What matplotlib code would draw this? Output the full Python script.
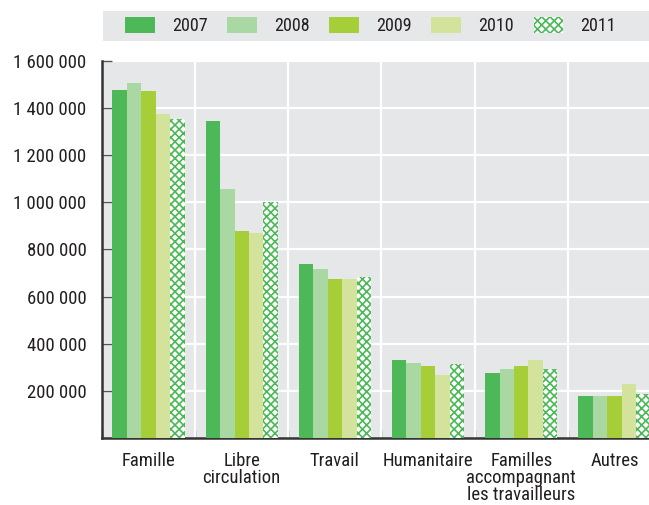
import numpy as np
import matplotlib
matplotlib.use("Agg")
import matplotlib.pyplot as plt
from matplotlib.patches import Rectangle, Patch

plt.rcParams['font.family'] = ['Roboto Condensed', 'Liberation Sans Narrow',
                               'Liberation Sans', 'DejaVu Sans']
plt.rcParams['hatch.linewidth'] = 1.2

categories = ["Famille", "Libre\ncirculation", "Travail", "Humanitaire",
              "Familles\naccompagnant\nles travailleurs", "Autres"]
years = ["2007", "2008", "2009", "2010", "2011"]
v2007 = [1477000, 1345000, 739000, 331000, 276000, 178000]
v2008 = [1507000, 1057000, 717000, 318000, 293000, 178000]
v2009 = [1473000, 879000, 675000, 306000, 306000, 178000]
v2010 = [1375000, 870000, 675000, 267000, 331000, 229000]
v2011 = [1354000, 1002000, 683000, 314000, 293000, 187000]
yticks = [200000, 400000, 600000, 800000, 1000000, 1200000, 1400000, 1600000]
series = [v2007, v2008, v2009, v2010, v2011]

colors = ["#4cb858", "#a9d8a3", "#a6ce39", "#d3e39c", "white"]
hatch_green = "#4cb858"
bg = "#e6e7e8"
text_col = "#231f20"

fig = plt.figure(figsize=(6.49, 5.05), dpi=100)
W, H = 649, 505
ax = fig.add_axes([102 / W, 1 - 438 / H, (661 - 102) / W, (438 - 61) / H])
ax.set_facecolor(bg)

x = np.arange(len(categories))
bw = 0.155
for i, vals in enumerate(series):
    pos = x - 2 * bw + i * bw
    if i == 4:
        ax.bar(pos, vals, bw, color="white", edgecolor=hatch_green,
               hatch="xxxx", linewidth=0, zorder=3)
    else:
        ax.bar(pos, vals, bw, color=colors[i], linewidth=0, zorder=3)

ax.set_xlim(-0.5, len(categories) - 0.5)
ax.set_ylim(0, 1600000)
ax.set_yticks(yticks)
ax.set_yticklabels([f"{v:,}".replace(",", " ") for v in yticks])
ax.set_xticks(x)
ax.set_xticklabels(categories, linespacing=0.95)
ax.set_xticks(np.arange(len(categories) + 1) - 0.5, minor=True)

ax.grid(axis="y", color="white", linewidth=1.6, zorder=1)
for b in np.arange(1, len(categories)) - 0.5:
    ax.axvline(b, color="white", linewidth=1.6, zorder=1)
ax.set_axisbelow(True)

for s in ["top", "right"]:
    ax.spines[s].set_visible(False)
ax.spines["left"].set_color("#333333")
ax.spines["left"].set_linewidth(1.8)
ax.spines["bottom"].set_color("#333333")
ax.spines["bottom"].set_linewidth(1.8)

ax.tick_params(axis="y", direction="in", length=7, width=1, color="#555555",
               labelsize=13.5, labelcolor=text_col, pad=11)
ax.tick_params(axis="x", which="major", length=0, labelsize=13.5,
               labelcolor=text_col, pad=10)
ax.tick_params(axis="x", which="minor", direction="in", length=6, width=1,
               color="#555555")

fig.patches.append(Rectangle((103 / W, 1 - 41 / H), (649 - 103) / W, 30 / H,
                             transform=fig.transFigure, facecolor=bg,
                             edgecolor="none"))
handles = []
for i, y in enumerate(years):
    if i == 4:
        handles.append(Patch(facecolor="white", edgecolor=hatch_green,
                             hatch="xxxx", linewidth=0, label=y))
    else:
        handles.append(Patch(facecolor=colors[i], linewidth=0, label=y))
fig.legend(handles=handles, loc="center left",
           bbox_to_anchor=(109 / W, 1 - 26 / H), ncol=5, frameon=False,
           fontsize=13, handlelength=1.65, handleheight=0.95,
           handletextpad=0.95, columnspacing=1.08, labelcolor=text_col)

fig.savefig("out.png", dpi=100)
